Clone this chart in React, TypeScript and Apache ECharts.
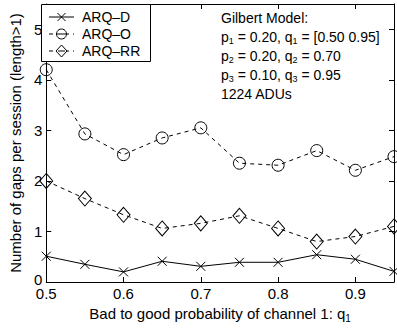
import React, { useEffect, useRef } from "react";
import * as echarts from "echarts";

const xValues = [0.5, 0.55, 0.6, 0.65, 0.7, 0.75, 0.8, 0.85, 0.9, 0.95];
const arqD = [0.51, 0.35, 0.2, 0.41, 0.31, 0.39, 0.39, 0.54, 0.45, 0.21];
const arqO = [4.2, 2.93, 2.52, 2.85, 3.05, 2.35, 2.31, 2.6, 2.21, 2.48];
const arqRR = [2.0, 1.65, 1.33, 1.06, 1.16, 1.31, 1.06, 0.8, 0.9, 1.1];
const seriesNames = ["ARQ\u2013D", "ARQ\u2013O", "ARQ\u2013RR"];

const FONT = "Liberation Sans, Arial, Helvetica, sans-serif";
const CROSS = "path://M0,0L10,10M10,0L0,10";

export default function App() {
  const ref = useRef<HTMLDivElement>(null);
  useEffect(() => {
    document.body.style.margin = "0";
    if (!ref.current) return;
    const chart = echarts.init(ref.current, undefined, { renderer: "svg" });
    const pair = (ys: number[]) => xValues.map((x, i) => [x, ys[i]]);
    const axisCommon = {
      type: "value" as const,
      axisLine: { show: true, onZero: false, lineStyle: { color: "#000", width: 1 } },
      axisTick: { show: true, inside: true, length: 5, lineStyle: { color: "#000" } },
      splitLine: { show: false },
    };
    const stroke = { stroke: "#000", lineWidth: 1, fill: "none" };
    const legendRows = [17, 34, 51];
    const legendGraphic: any[] = [
      { type: "rect", shape: { x: 41.5, y: 4.5, width: 109, height: 57 }, style: { fill: "#fff", stroke: "#000", lineWidth: 1 }, z: 10 },
      // ARQ-D
      { type: "line", shape: { x1: 49, y1: legendRows[0], x2: 74, y2: legendRows[0] }, style: stroke, z: 11 },
      { type: "line", shape: { x1: 57.5, y1: legendRows[0] - 4, x2: 65.5, y2: legendRows[0] + 4 }, style: stroke, z: 11 },
      { type: "line", shape: { x1: 65.5, y1: legendRows[0] - 4, x2: 57.5, y2: legendRows[0] + 4 }, style: stroke, z: 11 },
      // ARQ-O
      { type: "line", shape: { x1: 49, y1: legendRows[1], x2: 74, y2: legendRows[1] }, style: { ...stroke, lineDash: [4, 4] }, z: 11 },
      { type: "circle", shape: { cx: 61.5, cy: legendRows[1], r: 5 }, style: { stroke: "#000", lineWidth: 1, fill: "#fff" }, z: 11 },
      { type: "line", shape: { x1: 57, y1: legendRows[1], x2: 66, y2: legendRows[1] }, style: stroke, z: 12 },
      // ARQ-RR
      { type: "line", shape: { x1: 49, y1: legendRows[2], x2: 74, y2: legendRows[2] }, style: { ...stroke, lineDash: [4, 4] }, z: 11 },
      {
        type: "polygon",
        shape: { points: [[61.5, legendRows[2] - 6], [67, legendRows[2]], [61.5, legendRows[2] + 6], [56, legendRows[2]]] },
        style: { stroke: "#000", lineWidth: 1, fill: "#fff" },
        z: 11,
      },
      { type: "line", shape: { x1: 58, y1: legendRows[2], x2: 65, y2: legendRows[2] }, style: stroke, z: 12 },
    ];
    seriesNames.forEach((n, i) => {
      legendGraphic.push({
        type: "text",
        x: 82,
        y: legendRows[i],
        style: { text: n, fill: "#000", font: `14px ${FONT}`, verticalAlign: "middle", align: "left" },
        z: 12,
      });
    });
    chart.setOption({
      animation: false,
      backgroundColor: "#fff",
      textStyle: { fontFamily: FONT },
      grid: { left: 38, right: 3, top: 4, bottom: 42, containLabel: false },
      xAxis: [
        {
          ...axisCommon,
          min: 0.5,
          max: 0.95,
          interval: 0.1,
          position: "bottom",
          axisLabel: {
            color: "#000",
            fontSize: 15,
            lineHeight: 11,
            fontFamily: FONT,
            margin: 6,
            showMaxLabel: false,
            formatter: (v: number) => v.toFixed(1),
          },
          name: "Bad to good probability of channel 1: q{s|1}",
          nameLocation: "middle",
          nameGap: 22,
          nameTextStyle: {
            color: "#000",
            fontSize: 15,
            fontFamily: FONT,
            rich: { s: { fontSize: 10, verticalAlign: "bottom", padding: [9, 0, 0, 0], fontFamily: FONT, color: "#000" } },
          },
        },
        {
          ...axisCommon,
          min: 0.5,
          max: 0.95,
          interval: 0.1,
          position: "top",
          axisLabel: { show: false },
        },
      ],
      yAxis: [
        {
          ...axisCommon,
          min: 0,
          max: 5.5,
          interval: 1,
          position: "left",
          axisLabel: {
            color: "#000",
            fontSize: 15,
            lineHeight: 11,
            fontFamily: FONT,
            margin: 4,
            showMaxLabel: false,
            formatter: (v: number) => (v === 0 ? "{z|0}" : String(v)),
            rich: { z: { fontSize: 15, lineHeight: 11, fontFamily: FONT, color: "#000", padding: [0, 0, 6, 0] } },
          },
          name: "Number of gaps per session (length>1)",
          nameLocation: "middle",
          nameGap: 20,
          nameTextStyle: { color: "#000", fontSize: 15, fontFamily: FONT },
        },
        {
          ...axisCommon,
          min: 0,
          max: 5.5,
          interval: 1,
          position: "right",
          axisLabel: { show: false },
        },
      ],
      series: [
        {
          name: seriesNames[0],
          type: "line",
          data: pair(arqD),
          symbol: CROSS,
          symbolSize: 9,
          lineStyle: { color: "#000", width: 1, type: "solid" },
          itemStyle: { color: "rgba(0,0,0,0)", borderColor: "#000", borderWidth: 1 },
        },
        {
          name: seriesNames[1],
          type: "line",
          data: pair(arqO),
          symbol: "circle",
          symbolSize: 12,
          lineStyle: { color: "#000", width: 1, type: [4, 4] },
          itemStyle: { color: "rgba(0,0,0,0)", borderColor: "#000", borderWidth: 1 },
        },
        {
          name: seriesNames[2],
          type: "line",
          data: pair(arqRR),
          symbol: "diamond",
          symbolSize: [13, 15],
          lineStyle: { color: "#000", width: 1, type: [4, 4] },
          itemStyle: { color: "rgba(0,0,0,0)", borderColor: "#000", borderWidth: 1 },
        },
      ],
      graphic: [
        ...legendGraphic,
        {
          type: "text",
          left: 221,
          top: 8,
          z: 12,
          style: {
            text:
              "Gilbert Model:\np{s|1} = 0.20, q{s|1} = [0.50 0.95]\np{s|2} = 0.20, q{s|2} = 0.70\np{s|3} = 0.10, q{s|3} = 0.95\n1224 ADUs",
            fill: "#000",
            font: `14px ${FONT}`,
            lineHeight: 19,
            rich: {
              s: { fontSize: 9, fontFamily: FONT, padding: [8, 0, 0, 0], fill: "#000", lineHeight: 19 },
            },
          },
        },
      ],
    });
    return () => chart.dispose();
  }, []);
  return <div ref={ref} style={{ width: 397, height: 328 }} />;
}
